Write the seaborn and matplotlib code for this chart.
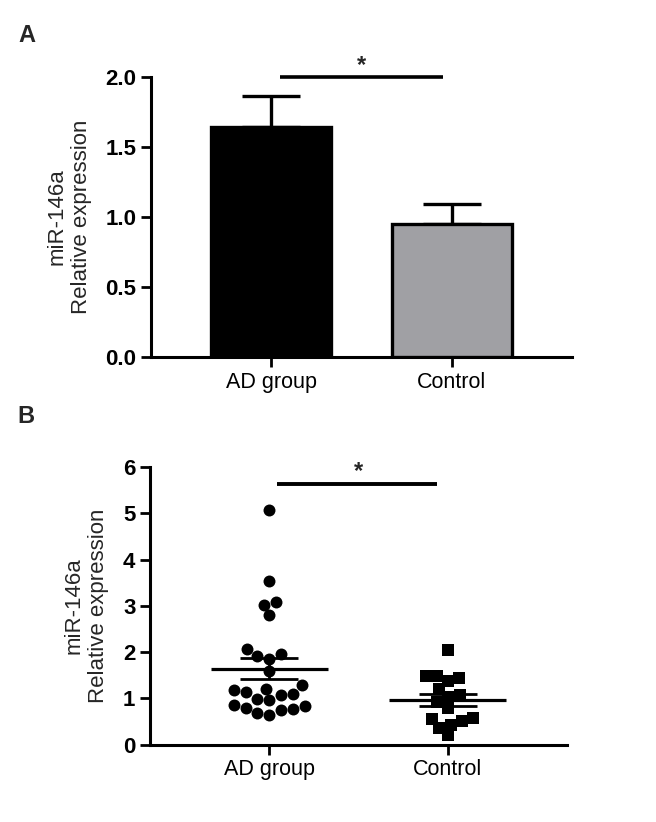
import numpy as np
import pandas as pd
import matplotlib
matplotlib.use('Agg')
import matplotlib.pyplot as plt
import seaborn as sns
from matplotlib.ticker import FormatStrFormatter

# panel A: bar means and SEM
groups = ['AD group', 'Control']
bar_means = [1.64, 0.95]
bar_sem = [0.225, 0.145]
bar_colors = ['#000000', '#a0a0a4']

# panel B: individual values
ad_values = [5.06, 3.53, 3.09, 3.02, 2.79, 2.07, 1.84, 1.96, 1.91, 1.58,
             1.28, 0.99, 0.74, 1.21, 0.86, 1.10, 0.76, 1.13, 0.83, 0.96,
             0.63, 1.08, 0.79, 1.17, 0.68]
control_values = [1.37, 1.08, 0.79, 0.50, 0.20, 1.43, 0.91, 0.55, 2.04, 1.49,
                  1.03, 0.57, 0.36, 1.49, 1.19, 0.43]

ylabel = 'miR-146a\nRelative expression'

sns.set_style('ticks')
plt.rcParams['font.family'] = ['Liberation Sans', 'DejaVu Sans']
plt.rcParams['axes.linewidth'] = 2.2
plt.rcParams['xtick.major.width'] = 2.0
plt.rcParams['ytick.major.width'] = 2.0
plt.rcParams['xtick.major.size'] = 7
plt.rcParams['ytick.major.size'] = 7
plt.rcParams['xtick.color'] = 'black'
plt.rcParams['ytick.color'] = 'black'
plt.rcParams['axes.edgecolor'] = 'black'


def style_axis(ax):
    sns.despine(ax=ax)
    ax.set_xlabel('')
    ax.set_ylabel(ylabel, fontsize=16, labelpad=10)
    for lab in ax.get_yticklabels():
        lab.set_fontweight('bold')
        lab.set_fontsize(16)
    for lab in ax.get_xticklabels():
        lab.set_fontsize(15.5)


fig = plt.figure(figsize=(6.56, 8.22), dpi=100)

# ---- panel A ----
axA = fig.add_axes([151 / 656, 1 - 357 / 822, 421 / 656, 280 / 822])
dfA = pd.DataFrame({'group': groups, 'mean': bar_means})
sns.barplot(data=dfA, x='group', y='mean', hue='group', palette=bar_colors,
            legend=False, errorbar=None, width=0.667, edgecolor='black',
            linewidth=2.4, ax=axA, zorder=3)
axA.errorbar(range(len(groups)), bar_means,
             yerr=[np.zeros(len(groups)), bar_sem], fmt='none',
             ecolor='black', elinewidth=2.4, capsize=21, capthick=2.4,
             zorder=2)
axA.set_xlim(-0.667, 1.667)
axA.set_ylim(0, 2.0)
axA.set_yticks([0, 0.5, 1.0, 1.5, 2.0])
axA.yaxis.set_major_formatter(FormatStrFormatter('%.1f'))
style_axis(axA)
axA.plot([0.05, 0.95], [2.0, 2.0], color='black', lw=2.6, clip_on=False,
         solid_capstyle='butt')
axA.text(0.5, 2.0, '*', ha='center', va='bottom', fontsize=17,
         fontweight='bold', clip_on=False)

# ---- panel B ----
axB = fig.add_axes([150 / 656, 1 - 744.5 / 822, 417 / 656, 277.5 / 822])
dfB_ad = pd.DataFrame({'group': 'AD group', 'value': ad_values})
dfB_ct = pd.DataFrame({'group': 'Control', 'value': control_values})
sns.swarmplot(data=dfB_ad, x='group', y='value', order=groups, marker='o',
              color='black', size=8.6, linewidth=0, ax=axB)
sns.swarmplot(data=dfB_ct, x='group', y='value', order=groups, marker='s',
              color='black', size=8, linewidth=0, ax=axB)
for i, vals in enumerate([ad_values, control_values]):
    m = np.mean(vals)
    sem = np.std(vals, ddof=1) / np.sqrt(len(vals))
    axB.hlines(m, i - 0.33, i + 0.33, color='black', lw=2.3, zorder=5)
    axB.errorbar(i, m, yerr=sem, fmt='none', ecolor='black', elinewidth=2.0,
                 capsize=21, capthick=2.0, zorder=5)
axB.set_xlim(-0.67, 1.67)
axB.set_ylim(0, 6)
axB.set_yticks(range(0, 7))
style_axis(axB)
axB.plot([0.045, 0.94], [5.63, 5.63], color='black', lw=2.8,
         solid_capstyle='butt')
axB.text(0.5, 5.66, '*', ha='center', va='bottom', fontsize=17,
         fontweight='bold', clip_on=False)

fig.text(18 / 656, 1 - 42 / 822, 'A', fontsize=17, fontweight='bold',
         va='baseline')
fig.text(17 / 656, 1 - 423 / 822, 'B', fontsize=17, fontweight='bold',
         va='baseline')

fig.savefig('out.png', dpi=100)
